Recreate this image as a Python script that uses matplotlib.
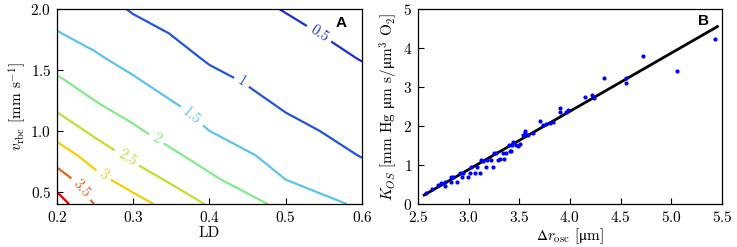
import numpy as np
import matplotlib
matplotlib.use("Agg")
import matplotlib.pyplot as plt

plt.rcParams['font.family'] = ['cmr10', 'DejaVu Serif']
plt.rcParams['mathtext.fontset'] = 'custom'
plt.rcParams['mathtext.rm'] = 'cmr10'
plt.rcParams['mathtext.it'] = 'cmmi10'
plt.rcParams['mathtext.bf'] = 'cmb10'
plt.rcParams['mathtext.fallback'] = 'stix'
plt.rcParams['axes.unicode_minus'] = False
plt.rcParams['axes.formatter.use_mathtext'] = True

# panel A: field
ld = [0.2, 0.25, 0.3, 0.4, 0.5, 0.6]
v_rbc = [0.4, 0.6, 0.8, 1.0, 1.2, 1.4, 1.6, 1.8, 2.0]
k_field = [
    [4.24, 3.48, 3.20, 2.45, 1.86, 1.41],
    [3.75, 3.16, 2.77, 2.09, 1.50, 1.18],
    [3.25, 2.78, 2.39, 1.79, 1.31, 0.98],
    [2.80, 2.39, 2.08, 1.50, 1.12, 0.85],
    [2.41, 2.06, 1.81, 1.31, 0.96, 0.73],
    [2.08, 1.80, 1.56, 1.12, 0.84, 0.61],
    [1.80, 1.55, 1.35, 0.95, 0.72, 0.48],
    [1.52, 1.36, 1.15, 0.83, 0.60, 0.37],
    [1.355, 1.18, 0.96, 0.71, 0.48, 0.26],
]
levels = [0.5, 1, 1.5, 2, 2.5, 3, 3.5, 4]
level_colors = ['#1c2ed0', '#2153e0', '#5cc3ee', '#82ec8c', '#b9e233',
                '#f7cf00', '#e5641a', '#e00000']
label_levels = [0.5, 1, 1.5, 2, 2.5, 3, 3.5]
label_pos = [(0.544, 1.80), (0.44, 1.375), (0.374, 1.10), (0.328, 0.91),
             (0.293, 0.79), (0.258, 0.607), (0.229, 0.51)]

# panel B: scatter + fitted line
dr_osc = [2.576, 2.641, 2.697, 2.730, 2.770, 2.770, 2.822, 2.845, 2.829, 2.882,
          2.911, 2.944, 2.934, 2.993, 3.026, 3.010, 3.059, 3.115, 3.086, 3.125,
          3.141, 3.174, 3.184, 3.224, 3.240, 3.250, 3.273, 3.289, 3.306, 3.339,
          3.349, 3.372, 3.395, 3.405, 3.428, 3.421, 3.438, 3.464, 3.487, 3.503,
          3.536, 3.553, 3.559, 3.586, 3.635, 3.701, 3.734, 3.766, 3.799, 3.832,
          3.90, 3.90, 3.98, 3.96, 4.15, 4.22, 4.24, 4.34, 4.553, 4.553,
          4.72, 5.06, 5.43]
k_os = [0.29, 0.385, 0.48, 0.53, 0.57, 0.46, 0.68, 0.68, 0.565, 0.565,
        0.80, 0.80, 0.685, 0.685, 0.96, 0.80, 0.80, 0.80, 0.96, 1.13,
        1.11, 0.96, 1.13, 1.13, 0.96, 1.32, 1.32, 1.13, 1.15, 1.30,
        1.16, 1.30, 1.52, 1.35, 1.52, 1.35, 1.60, 1.52, 1.50, 1.54,
        1.77, 1.83, 1.86, 1.77, 1.82, 2.14, 2.03, 2.05, 2.07, 2.09,
        2.45, 2.37, 2.41, 2.36, 2.74, 2.79, 2.71, 3.23, 3.24, 3.09,
        3.79, 3.41, 4.23]
fit_slope = 1.493
fit_intercept = -3.595
fit_x = [2.562, 5.455]

fig = plt.figure(figsize=(7.37, 2.47), dpi=100)
ax1 = fig.add_axes([0.0773, 0.174, 0.4139, 0.7896])
ax2 = fig.add_axes([0.567, 0.174, 0.4126, 0.7896])

cs = ax1.contour(ld, v_rbc, np.array(k_field), levels=levels,
                 colors=level_colors, linewidths=1.6)
ax1.clabel(cs, levels=label_levels, manual=label_pos, fmt='%g',
           inline=True, fontsize=10.5)
ax1.set_xlim(0.2, 0.6)
ax1.set_ylim(0.4, 2.0)
ax1.set_xticks([0.2, 0.3, 0.4, 0.5, 0.6])
ax1.set_yticks([0.5, 1.0, 1.5, 2.0])
ax1.set_xlabel('LD', fontsize=11, labelpad=1)
ax1.set_ylabel(r'$v_{\rm rbc}$ [mm s$^{-1}$]', fontsize=11, labelpad=2)
ax1.text(0.93, 0.93, 'A', transform=ax1.transAxes, family='Liberation Sans',
         fontweight='bold', fontsize=11, ha='center', va='center')

ax2.scatter(dr_osc, k_os, s=9, color='#0000ff', zorder=3, linewidths=0)
fx = np.array(fit_x)
ax2.plot(fx, fit_slope * fx + fit_intercept, color='black', lw=2, zorder=2)
ax2.set_xlim(2.5, 5.5)
ax2.set_ylim(0, 5)
ax2.set_xticks([2.5, 3.0, 3.5, 4.0, 4.5, 5.0, 5.5])
ax2.set_yticks([0, 1, 2, 3, 4, 5])
ax2.set_xlabel(r'$\Delta r_{\rm osc}$ [$\mathrm{\mu}$m]', fontsize=11, labelpad=1)
ax2.set_ylabel(r'$K_{OS}$ [mm Hg $\mathrm{\mu}$m s/$\mathrm{\mu}$m$^3$ O$_2$]',
               fontsize=11, labelpad=2)
ax2.text(0.94, 0.94, 'B', transform=ax2.transAxes, family='Liberation Sans',
         fontweight='bold', fontsize=11, ha='center', va='center')

for ax in (ax1, ax2):
    ax.tick_params(direction='in', labelsize=11, length=4, pad=4)
    for sp in ax.spines.values():
        sp.set_linewidth(0.9)

fig.savefig('out.png', dpi=100)
